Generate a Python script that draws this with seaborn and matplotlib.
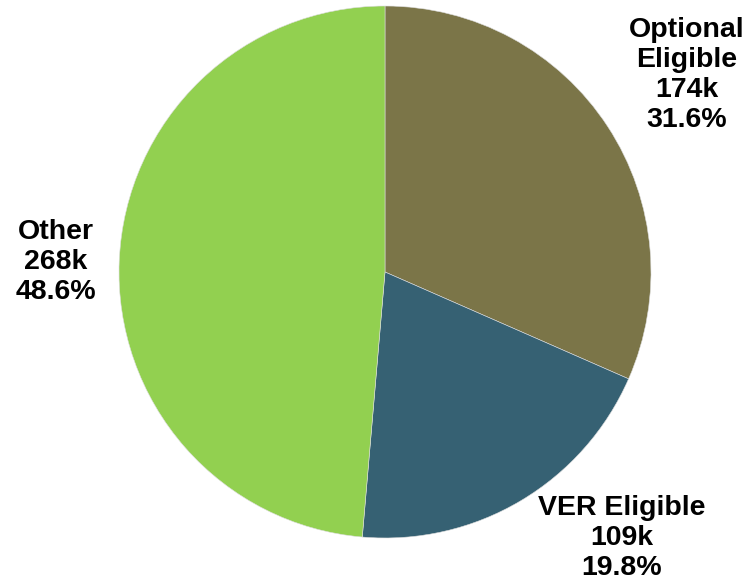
import matplotlib
matplotlib.use("Agg")
import matplotlib.pyplot as plt
import seaborn as sns

# slice data, in thousands
categories = ["Optional\nEligible", "VER Eligible", "Other"]
values_k = [174, 109, 268]
colors = ["#7B7548", "#366173", "#92D050"]

# label anchor points in pixels (x, y from top)
label_pos = [(687, 75), (622, 538), (56, 262)]


def draw_pie():
    sns.set_theme(style="white")
    plt.rcParams['font.family'] = ['Liberation Sans', 'DejaVu Sans']

    fig = plt.figure(figsize=(7.45, 5.83), dpi=100)
    ax = fig.add_axes([0, 0, 1, 1])

    ax.pie(values_k, colors=colors, startangle=90, counterclock=False,
           center=(385, 583 - 272), radius=266,
           wedgeprops=dict(linewidth=0.4, edgecolor='#dddddd'))

    # pie() resets the limits, so set them afterwards
    ax.set_xlim(0, 745)
    ax.set_ylim(0, 583)
    ax.set_aspect('equal')
    ax.axis('off')

    total = sum(values_k)
    for name, v, (px, py) in zip(categories, values_k, label_pos):
        pct = v / total * 100
        ax.text(px, 583 - py, f"{name}\n{v}k\n{pct:.1f}%", ha='center', va='center',
                fontsize=20.5, fontweight='bold', color='black', linespacing=1.2)

    fig.savefig("out.png", dpi=100)


if __name__ == '__main__':
    draw_pie()
